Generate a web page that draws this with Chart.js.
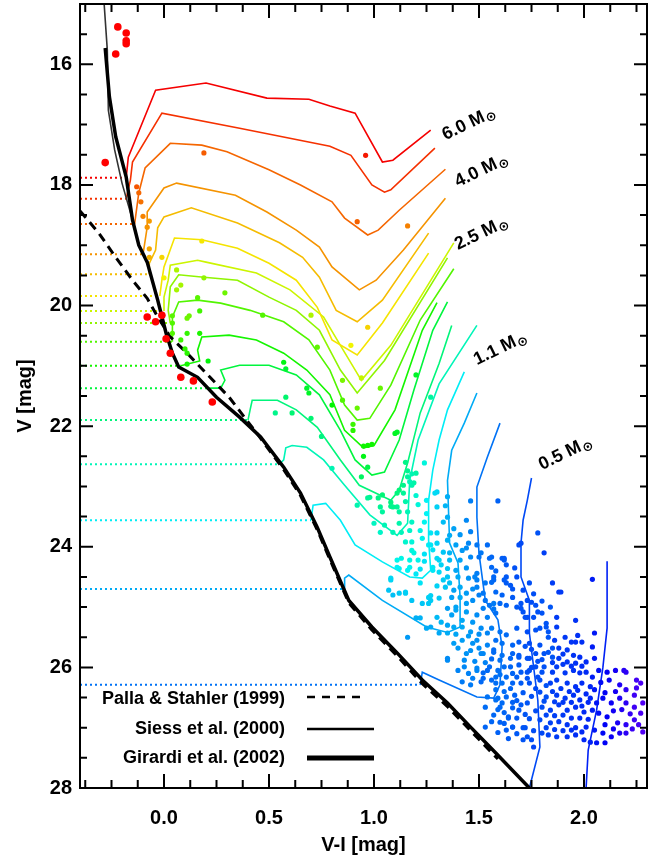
<!DOCTYPE html>
<html><head><meta charset="utf-8">
<script src="https://cdn.jsdelivr.net/npm/chart.js@4/dist/chart.umd.min.js"></script>
<style>html,body{margin:0;padding:0;background:#fff;}canvas{display:block;}</style>
</head><body>
<canvas id="c" width="662" height="858"></canvas>
<script>
// ---------- data (V-I [mag], V [mag]) ----------
const trk1 = [[-0.18,17.88],[-0.17,17.54],[-0.04,16.43],[0.20,16.31],[0.49,16.56],[0.69,16.58],[0.79,16.69],[0.91,16.81],[1.04,17.62],[1.09,17.59],[1.27,17.09]];
const trk2 = [[-0.18,18.23],[-0.16,17.92],[-0.15,17.62],[-0.01,16.81],[0.36,17.06],[0.79,17.36],[0.89,17.51],[0.99,18.00],[1.05,18.12],[1.08,18.08],[1.29,17.39]];
const trk3 = [[-0.14,18.65],[-0.12,18.13],[-0.09,17.72],[0.03,17.31],[0.18,17.34],[0.30,17.45],[0.50,17.75],[0.65,18.00],[0.80,18.28],[0.86,18.55],[0.97,18.83],[1.02,18.75],[1.12,18.42],[1.34,17.74]];
const trk4 = [[-0.10,19.15],[-0.08,18.70],[-0.08,18.45],[0.00,18.05],[0.06,17.97],[0.34,18.17],[0.49,18.45],[0.63,18.75],[0.74,19.03],[0.80,19.36],[0.93,19.74],[1.01,19.58],[1.14,19.08],[1.34,18.22]];
const trk5 = [[-0.07,19.48],[-0.07,19.30],[-0.04,19.08],[-0.03,18.71],[0.00,18.53],[0.13,18.38],[0.35,18.63],[0.55,18.96],[0.66,19.20],[0.74,19.53],[0.82,20.08],[0.92,20.27],[1.04,19.91],[1.26,18.80]];
const trk6 = [[-0.02,19.84],[-0.01,19.58],[0.00,19.36],[0.05,18.88],[0.18,18.91],[0.35,19.05],[0.50,19.30],[0.63,19.58],[0.73,20.03],[0.80,20.57],[0.92,20.82],[1.04,20.29],[1.26,19.13]];
const trk7 = [[0.00,20.09],[0.00,19.86],[0.02,19.58],[0.03,19.33],[0.16,19.25],[0.20,19.28],[0.44,19.46],[0.60,19.74],[0.76,20.19],[0.84,20.66],[0.94,21.24],[1.08,20.66],[1.38,18.96]];
const trk8 = [[0.03,20.29],[0.02,20.08],[0.03,19.69],[0.07,19.49],[0.19,19.53],[0.35,19.58],[0.50,19.86],[0.63,20.08],[0.74,20.41],[0.84,21.07],[0.92,21.45],[1.05,20.91],[1.35,19.21]];
const trk9 = [[0.04,20.60],[0.04,20.36],[0.04,20.19],[0.07,19.94],[0.16,19.91],[0.27,19.96],[0.41,20.08],[0.57,20.27],[0.69,20.57],[0.79,21.07],[0.86,21.65],[0.92,21.90],[0.98,21.87],[1.08,21.32],[1.22,20.24],[1.38,19.39]];
const trk10 = [[0.08,21.00],[0.17,20.92],[0.16,20.74],[0.18,20.52],[0.31,20.49],[0.44,20.57],[0.57,20.79],[0.68,21.07],[0.79,21.48],[0.86,22.07],[0.95,22.36],[1.00,22.32],[1.10,21.73],[1.23,20.41],[1.30,19.95]];
const trk11 = [[0.21,21.37],[0.27,21.37],[0.29,21.24],[0.27,21.07],[0.36,20.99],[0.50,20.99],[0.63,21.15],[0.74,21.48],[0.84,22.07],[0.91,22.56],[0.99,22.81],[1.05,22.76],[1.12,22.23],[1.19,21.40],[1.28,20.41],[1.35,19.94]];
const trk12 = [[0.40,21.90],[0.41,21.73],[0.42,21.57],[0.54,21.57],[0.63,21.73],[0.73,22.02],[0.84,22.56],[0.93,22.98],[1.08,23.23],[1.12,23.06],[1.16,22.61],[1.22,21.78],[1.31,20.96],[1.37,20.33]];
const trk13 = [[0.55,22.63],[0.57,22.56],[0.58,22.36],[0.61,22.32],[0.68,22.35],[0.76,22.56],[0.86,22.98],[0.98,23.47],[1.11,23.81],[1.16,23.61],[1.17,22.90],[1.21,22.23],[1.31,21.30],[1.49,20.33]];
const trk14 = [[0.70,23.56],[0.71,23.31],[0.77,23.28],[0.84,23.56],[0.91,23.97],[1.04,24.25],[1.17,24.50],[1.23,24.52],[1.27,24.39],[1.26,23.89],[1.26,23.23],[1.28,22.73],[1.31,22.23],[1.35,21.73],[1.43,21.10]];
const trk15 = [[0.86,24.70],[0.86,24.52],[0.88,24.47],[1.04,24.89],[1.25,25.33],[1.35,25.42],[1.41,25.33],[1.41,24.84],[1.40,24.27],[1.36,23.94],[1.35,22.90],[1.37,22.40],[1.43,21.95],[1.49,21.45]];
const trk16 = [[1.22,26.29],[1.23,26.08],[1.31,26.21],[1.49,26.49],[1.57,26.51],[1.60,26.29],[1.61,25.66],[1.59,25.21],[1.53,24.89],[1.50,24.11],[1.49,23.51],[1.49,23.01],[1.54,22.51],[1.60,21.95]];
const trkE = [[1.75,22.86],[1.73,23.23],[1.71,23.56],[1.70,23.94],[1.70,24.50],[1.74,24.89],[1.74,25.43],[1.76,25.99],[1.78,26.54],[1.79,27.32],[1.74,28.00]];
const trkF = [[2.11,24.24],[2.11,25.35],[2.09,26.00],[2.06,26.71],[2.02,27.37],[2.01,28.00]];
const zamsTracks = [trk1,trk2,trk3,trk4,trk5,trk6,trk7,trk8,trk9,trk10,trk11,trk12,trk13,trk14,trk15,trk16];
const tracks = zamsTracks.concat([trkE,trkF]);

const girardiTop = [[-0.28,15.73],[-0.26,16.54],[-0.23,17.20],[-0.18,17.87]];
const siessTop = [[-0.285,15.00],[-0.27,15.76],[-0.265,16.76],[-0.235,17.42],[-0.20,17.97]];
const msLower = [[-0.15,18.58],[-0.12,19.00],[-0.08,19.28],[-0.03,19.91],[0.01,20.46],[0.04,20.79],[0.07,21.02],[0.16,21.19],[0.25,21.52],[0.36,21.85],[0.46,22.18],[0.57,22.68],[0.65,23.11],[0.73,23.68],[0.79,24.17],[0.88,24.89],[0.99,25.33],[1.11,25.76],[1.23,26.21],[1.35,26.59],[1.46,26.99],[1.58,27.42],[1.74,28.00]];
const pallaStahler = [[-0.40,18.43],[-0.31,18.80],[-0.23,19.20],[-0.15,19.58],[-0.08,19.88],[-0.03,20.19],[0.03,20.52],[0.11,20.79],[0.20,21.12],[0.31,21.52],[0.44,22.11],[0.57,22.72],[0.65,23.15],[0.73,23.72],[0.79,24.21],[0.88,24.93],[0.99,25.38],[1.11,25.81],[1.23,26.27],[1.35,26.65],[1.46,27.05],[1.59,27.52]];

const redStars = [[-0.22,15.38],[-0.18,15.48],[-0.18,15.61],[-0.18,15.66],[-0.23,15.83],[-0.28,17.63],[-0.08,20.19],[-0.04,20.27],[-0.01,20.16],[0.01,20.55],[0.03,20.79],[0.08,21.19],[0.14,21.25],[0.23,21.60]];

const stars = [
[0.19,17.47],[-0.13,18.03],[-0.12,18.13],[-0.11,18.28],[-0.10,18.52],[-0.07,18.60],[-0.08,18.70],[-0.07,19.06],[-0.07,19.20],[-0.01,19.20],[0.18,18.93],[0.06,19.41],[0.08,19.66],[0.06,19.74],[0.19,19.54],[0.29,19.79],[0.00,19.54],[0.16,19.87],[0.96,17.51],[0.92,18.61],[1.16,18.68],[0.70,20.16],[0.97,20.36],[0.73,20.69],[0.89,20.66],[0.04,20.17],[0.11,20.21],[0.12,20.17],[0.17,20.09],[0.47,20.16],[0.04,20.29],[0.04,20.46],[0.11,20.46],[0.17,20.46],[0.08,20.57],[0.10,20.72],[0.11,20.79],[0.21,20.92],[0.11,20.97],[0.57,20.94],[0.58,21.05],[0.68,21.37],[0.69,21.45],[0.58,21.52],[0.53,21.78],[0.61,21.78],[0.70,21.87],[0.75,22.17],[0.94,21.20],[0.85,21.24],[1.03,21.37],[0.85,21.57],[0.80,21.65],[0.92,21.70],[0.90,21.97],[0.90,22.07],[1.20,21.15],[1.27,21.52],[1.11,22.10],[0.99,22.30],[0.95,22.33],[0.97,22.32],[0.95,22.50],[0.80,22.70],[0.97,22.68],[0.94,22.84],[1.15,22.60],[1.20,22.78],[1.16,22.84],[1.19,22.94],[1.24,22.61],[1.10,22.12],[1.16,22.74],[1.18,22.79],[1.17,22.92],
[1.30,23.09],[1.35,23.17],[1.46,23.24],[1.59,23.24],[1.12,23.06],[1.04,23.14],[0.98,23.18],[1.11,23.11],[1.08,23.26],[1.04,23.42],[1.11,23.34],[1.30,23.34],[1.35,23.51],[1.44,23.56],[1.34,23.32],[1.25,23.23],[0.92,23.31],[0.97,23.19],[1.03,23.34],[1.12,23.42],[1.16,23.42],[1.08,23.33],[1.29,23.11],[1.33,23.59],[1.18,23.59],[1.24,23.59],[1.17,23.73],[1.22,23.73],[1.27,23.77],[1.30,23.77],[1.35,23.89],[1.26,23.97],[1.19,24.10],[1.24,24.24],[1.22,24.37],[1.13,24.19],[1.11,24.34],[1.17,24.34],[1.08,24.52],[1.15,24.77],[1.27,24.81],[1.30,24.19],[1.36,24.10],[1.39,23.97],[1.44,24.02],[1.49,23.97],[1.51,24.10],[1.56,24.17],[1.46,24.17],[1.41,24.22],[1.32,24.30],[1.28,24.39],[1.35,24.50],[1.39,24.39],[1.49,24.44],[1.56,24.34],[1.57,24.50],[1.63,24.50],[1.65,24.64],[1.62,24.19],[1.69,23.97],[1.78,23.77],[1.81,24.10],[2.04,24.54],[1.89,24.75],[1.49,24.67],[1.44,24.77],[1.52,24.77],[1.34,24.67],[1.37,24.84],[1.07,24.72],[1.12,24.77],[1.26,24.84],
[1.02,23.19],[1.09,23.34],[1.14,23.11],[1.14,22.98],[1.18,22.98],[1.00,23.61],[1.05,23.64],[1.09,23.76],[1.12,23.61],[1.13,23.76],[1.03,23.76],[1.15,23.92],[1.18,23.92],[1.23,23.86],[1.27,23.97],[1.18,24.06],[1.11,24.22],[1.17,24.22],[1.21,24.22],[1.36,23.81],[1.30,23.94],[1.33,24.09],[1.36,24.22],[1.31,24.22],[1.42,24.06],[1.45,23.94],[1.50,24.17],[1.55,24.19],[1.62,24.22],[1.70,23.94],[1.12,24.36],[1.16,24.39],[1.28,24.34],[1.31,24.42],[1.35,24.36],[1.40,24.50],[1.36,24.60],[1.38,24.72],[1.41,24.67],[1.45,24.52],[1.48,24.50],[1.49,24.55],[1.53,24.60],[1.57,24.55],[1.62,24.55],[1.63,24.60],[1.71,24.72],[1.08,24.55],[1.15,24.75],[1.09,24.80],[1.18,24.89],[1.23,24.94],[1.27,24.89],[1.31,24.85],[1.39,25.00],[1.41,24.84],[1.44,24.94],[1.47,24.89],[1.50,24.80],[1.53,24.89],[1.55,24.97],[1.60,24.94],[1.63,24.97],[1.68,25.00],[1.70,24.94],[1.73,24.89],[1.75,24.92],[1.77,24.97],[1.37,25.13],[1.44,25.08],[1.49,25.13],[1.54,25.17],[1.58,25.10],[1.71,25.08],[1.73,25.17],[1.78,25.08],[1.80,25.10],[1.22,25.18],[1.30,25.17],[1.16,25.50],[1.27,25.33],[1.42,25.33],[1.46,25.41],[1.51,25.35],[1.54,25.43],[1.56,25.35],[1.60,25.41],[1.63,25.46],[1.68,25.35],[1.73,25.41],[1.77,25.38],[1.79,25.35],[1.82,25.33],[1.42,25.55],[1.49,25.55],[1.54,25.63],[1.58,25.55],[1.61,25.60],[1.66,25.63],[1.69,25.58],[1.74,25.60],[1.79,25.63],[1.83,25.50],[1.44,25.77],[1.51,25.77],[1.57,25.75],[1.61,25.80],[1.66,25.77],[1.69,25.80],[1.74,25.85],[1.77,25.77],[1.81,25.77],[1.35,25.85],[1.43,25.99],[1.49,26.05],[1.55,25.99],[1.59,26.05],[1.65,25.99],[1.69,25.96],[1.73,26.08],[1.77,25.99],[1.80,26.08],[1.52,26.18],[1.58,26.16],[1.63,26.16],[1.68,26.16],[1.73,26.18],[1.78,26.16],
[1.88,24.75],[1.96,25.22],[2.05,25.43],[1.54,23.97],[1.61,24.19],[1.56,24.59],[1.61,24.80],[1.66,24.84],[1.57,24.94],[1.70,25.02],[1.72,25.17],[1.76,25.17],[1.84,25.00],[1.87,25.17],[1.82,25.27],[1.83,25.41],[1.87,25.33],[1.94,25.58],[1.96,25.58],[1.99,25.58],[2.04,25.66],[1.85,25.68],[1.88,25.68],[1.92,25.71],[1.85,25.83],[1.88,25.85],[1.92,25.91],[1.96,25.93],[1.98,25.83],[2.01,25.91],[2.05,25.85],[1.81,25.99],[1.85,26.08],[1.87,25.99],[1.91,26.09],[1.95,26.05],[1.98,26.09],[2.01,26.08],[2.04,26.16],[2.07,26.05],[2.11,26.08],[2.15,26.05],[2.19,26.05],[2.12,26.21],[2.17,26.29],[2.20,26.37],[2.25,26.34],[2.27,26.26],[1.79,26.21],[1.84,26.26],[1.87,26.21],[1.92,26.26],[1.96,26.32],[1.99,26.26],[2.03,26.32],[2.05,26.37],[1.79,26.41],[1.82,26.49],[1.87,26.46],[1.91,26.51],[1.95,26.46],[1.98,26.54],[2.03,26.51],[2.06,26.59],[2.09,26.51],[2.13,26.59],[2.17,26.51],[2.20,26.59],[2.24,26.66],[2.27,26.76],[1.80,26.66],[1.84,26.71],[1.88,26.62],[1.92,26.71],[1.96,26.66],[2.00,26.74],[2.04,26.71],[2.07,26.76],[2.11,26.82],[2.16,26.92],[2.20,26.95],[2.24,26.87],[2.28,27.07],[1.79,26.87],[1.84,26.92],[1.88,26.90],[1.92,26.95],[1.96,27.00],[2.01,26.99],[2.05,27.04],[2.09,27.09],[2.13,27.15],[2.17,27.09],[2.20,27.09],[1.80,27.09],[1.83,27.12],[1.87,27.15],[1.92,27.15],[1.96,27.12],[2.00,27.20],[2.03,27.24],[2.06,27.25],[2.10,27.25],[1.71,27.20],[1.73,27.15],[1.72,27.00],[1.66,26.99],[1.64,26.82],[1.69,26.71],[1.73,26.59],[1.60,26.66],[1.59,26.51],[1.63,26.49],[1.67,26.46],[1.71,26.42],[1.61,26.26],[1.66,26.26],[1.70,26.26],[1.74,26.26],[1.66,26.10],[1.70,26.08],[1.74,26.05],[1.62,25.99],[1.60,25.88],[1.65,25.85],[1.69,25.83],[1.73,25.85],[1.57,25.71],[1.52,25.77],[1.54,26.05],[1.56,26.21],[1.58,26.37],[1.54,26.49],[1.53,26.66],[1.57,26.79],[1.60,26.91],[1.53,26.99],[1.63,27.04],[2.20,26.08],[2.25,26.21],[2.28,26.59],[2.24,26.46],
[1.35,25.88],[1.43,25.88],[1.49,26.01],[1.52,26.09],[1.47,26.18],[1.51,26.24],[1.42,26.24],[1.46,26.29],[1.58,26.26],[1.58,26.54],[1.61,26.59],[1.66,26.67],[1.64,26.84],[1.68,26.84],[1.66,26.99],[1.71,27.00],[1.75,27.20],[1.76,27.32],[1.26,24.94],[1.35,25.02],[1.39,25.05],[1.42,25.22],[1.20,25.18],[1.31,25.43],[1.35,25.43],[1.38,25.33],[1.25,25.35],
[1.47,25.60],[1.50,25.68],[1.46,25.72],[1.40,25.68],[1.38,25.60],[1.48,25.90],[1.45,26.10],[1.40,26.05],[1.53,25.92],[1.56,25.86],[1.60,26.12],[1.62,26.40],[1.65,26.35],[1.68,26.55],[1.70,26.62],[1.72,26.78],[1.66,26.58],[1.62,26.75],[1.59,26.70],[1.56,26.90],[1.62,26.93],[1.68,27.10],[1.64,27.18],[1.59,27.08],[1.82,26.30],[1.85,26.40],[1.89,26.35],[1.93,26.40],[1.97,26.38],[2.01,26.44],[1.81,26.56],[1.86,26.57],[1.90,26.58],[1.94,26.58],[1.99,26.64],[2.02,26.58],[1.82,26.79],[1.86,26.80],[1.90,26.79],[1.94,26.84],[1.98,26.84],[2.02,26.86],[1.82,27.00],[1.86,27.03],[1.90,27.05],[1.94,27.04],[1.99,27.07],[1.85,25.92],[1.90,25.95],[1.94,25.98],[1.99,25.98],[1.83,25.75],[1.90,25.78],[1.95,25.80],[1.80,25.87],[1.86,25.55],[1.91,25.50],[1.97,25.47],[2.08,26.25],[2.15,26.40],[2.10,26.42],[2.18,26.70],[2.14,26.72],[2.22,26.77],[2.10,26.95],[2.14,27.02],[2.23,27.02],[2.26,26.95],[1.75,25.70],[1.72,25.65],[1.78,25.90],[1.75,26.00],[1.77,26.35],[1.75,26.48],[1.77,26.72],[1.74,26.85],[1.76,27.05],[1.35,25.30],[1.32,25.25],[1.39,25.45],[1.45,25.48],[1.50,25.45],[1.47,25.25],[1.52,25.02],[1.57,25.03],[1.58,24.75],[1.66,24.70],[1.68,24.50],[1.74,24.60],[1.76,24.78],[1.80,24.90],[1.85,24.60],[1.63,24.30],[1.67,24.35],[1.58,24.40],[1.44,24.35],[1.47,24.70],[1.33,24.55],[1.30,24.65],[1.22,24.60],[1.20,24.45],[1.24,24.12],[1.28,24.05],[1.41,23.80],[1.38,23.70],[1.46,23.75],[1.25,23.45],[1.21,23.30],[1.15,23.25],[1.20,23.15]
];

const massLabels = ['6.0','4.0','2.5','1.1','0.5'];
const massLabelX = [1.34,1.40,1.40,1.49,1.80];
const massLabelV = [17.26,18.04,19.08,20.99,22.73];
const legendLabels = ['Palla & Stahler (1999)','Siess et al. (2000)','Girardi et al. (2002)'];
const xTicks = [0,0.5,1,1.5,2];
const yTicks = [16,18,20,22,24,26,28];

// ---------- styling ----------
const trackHues = [0,12,25,36,46,56,70,85,100,115,135,150,165,182,198,212,222,232];
const col = h => `hsl(${h},100%,48%)`;
const FONT = '"Liberation Sans", Arial, sans-serif';

function segDist(px,py,ax,ay,bx,by){
  const dx=bx-ax, dy=by-ay; const L=dx*dx+dy*dy;
  let t = L>0 ? ((px-ax)*dx+(py-ay)*dy)/L : 0; t=Math.max(0,Math.min(1,t));
  const qx=ax+t*dx-px, qy=ay+t*dy-py; return Math.sqrt(qx*qx+qy*qy);
}
function hueFor(x,V){
  const X=x*210, Y=V*60.3; let b=[1e9,0], s=[1e9,0];
  tracks.forEach((t,i)=>{
    let d=1e9;
    for(let k=0;k<t.length-1;k++) d=Math.min(d, segDist(X,Y,t[k][0]*210,t[k][1]*60.3,t[k+1][0]*210,t[k+1][1]*60.3));
    if(d<b[0]){s=b;b=[d,i];} else if(d<s[0]) s=[d,i];
  });
  let h=(trackHues[b[1]]*s[0]+trackHues[s[1]]*b[0])/(b[0]+s[0]+1e-9);
  if(x>2.03) h=Math.max(h, 232+(x-2.03)*110);
  return h;
}
const xy = arr => arr.map(p=>({x:p[0],y:p[1]}));

const datasets = [];
datasets.push({data:xy(redStars), showLine:false, pointRadius:3.8, pointBackgroundColor:'#ff0000', pointBorderWidth:0, order:0});
datasets.push({data:xy(stars), showLine:false, pointRadius:2.6, pointBackgroundColor:stars.map(p=>col(hueFor(p[0],p[1]))), pointBorderWidth:0, order:0});
datasets.push({data:xy(girardiTop.concat(msLower)), showLine:true, borderColor:'#000', borderWidth:3.5, pointRadius:0, order:1});
datasets.push({data:xy(siessTop.concat(msLower)), showLine:true, borderColor:'#333', borderWidth:1.6, pointRadius:0, order:1});
datasets.push({data:xy(pallaStahler), showLine:true, borderColor:'#000', borderWidth:3, borderDash:[9,6], pointRadius:0, order:1});
tracks.forEach((t,i)=>{
  datasets.push({data:xy(t), showLine:true, borderColor:col(trackHues[i]), borderWidth:1.6, pointRadius:0, order:3});
});
zamsTracks.forEach((t,i)=>{
  datasets.push({data:[{x:-0.4,y:t[0][1]},{x:t[0][0],y:t[0][1]}], showLine:true, borderColor:col(trackHues[i]), borderWidth:2, borderDash:[2,3], pointRadius:0, order:3});
});

const deco = {
  id:'deco',
  afterDatasetsDraw(chart){
    const {ctx, chartArea:a, scales:{x,y}} = chart;
    ctx.save();
    ctx.strokeStyle='#000'; ctx.lineWidth=2;
    ctx.strokeRect(a.left, a.top, a.right-a.left, a.bottom-a.top);
    ctx.beginPath();
    for(let v=-0.375; v<2.3; v+=0.125){
      const px=x.getPixelForValue(v); const maj=Math.abs(v*2-Math.round(v*2))<1e-6; const L=maj?14:8;
      ctx.moveTo(px,a.bottom); ctx.lineTo(px,a.bottom-L);
      ctx.moveTo(px,a.top); ctx.lineTo(px,a.top+L);
    }
    for(let v=15.5; v<28; v+=0.5){
      const py=y.getPixelForValue(v); const maj=Math.abs(v/2-Math.round(v/2))<1e-6; const L=maj?13:7;
      ctx.moveTo(a.left,py); ctx.lineTo(a.left+L,py);
      ctx.moveTo(a.right,py); ctx.lineTo(a.right-L,py);
    }
    ctx.stroke();
    ctx.fillStyle='#000';
    massLabels.forEach((m,i)=>{
      ctx.save();
      ctx.translate(x.getPixelForValue(massLabelX[i]), y.getPixelForValue(massLabelV[i]));
      ctx.rotate(-26*Math.PI/180);
      ctx.font='bold 18px '+FONT; ctx.textAlign='left'; ctx.textBaseline='alphabetic';
      const s=m+' M'; ctx.fillText(s,0,0);
      const w=ctx.measureText(s).width;
      ctx.font='bold 13px "DejaVu Sans", sans-serif'; ctx.fillText('\u2299', w+1, 3);
      ctx.restore();
    });
    const lx=a.left+205, rows=[a.bottom-89,a.bottom-59,a.bottom-30];
    ctx.font='bold 18px '+FONT; ctx.textAlign='right'; ctx.textBaseline='middle';
    legendLabels.forEach((s,i)=>ctx.fillText(s,lx,rows[i]));
    ctx.strokeStyle='#000';
    ctx.lineWidth=2.5; ctx.setLineDash([8,7]); ctx.beginPath(); ctx.moveTo(a.left+227,rows[0]-2); ctx.lineTo(a.left+287,rows[0]-2); ctx.stroke();
    ctx.setLineDash([]);
    ctx.lineWidth=2.5; ctx.beginPath(); ctx.moveTo(a.left+227,rows[1]); ctx.lineTo(a.left+294,rows[1]); ctx.stroke();
    ctx.lineWidth=5; ctx.beginPath(); ctx.moveTo(a.left+227,rows[2]); ctx.lineTo(a.left+294,rows[2]); ctx.stroke();
    ctx.restore();
  }
};

new Chart(document.getElementById('c'), {
  type:'scatter',
  data:{datasets},
  options:{
    responsive:false, animation:false, devicePixelRatio:1, events:[],
    layout:{padding:{left:0,right:15,top:4,bottom:0}},
    plugins:{legend:{display:false}, tooltip:{enabled:false}},
    scales:{
      x:{type:'linear', min:-0.4, max:2.3,
        grid:{display:false, drawTicks:false}, border:{display:false},
        afterBuildTicks:s=>{s.ticks=xTicks.map(v=>({value:v}));},
        afterFit:s=>{s.height=70; s.paddingLeft=0; s.paddingRight=0;},
        ticks:{color:'#000', font:{family:FONT, size:20, weight:'bold'}, padding:18, maxRotation:0, autoSkip:false, callback:v=>Number(v).toFixed(1)},
        title:{display:true, text:'V-I [mag]', color:'#000', font:{family:FONT,size:20,weight:'bold'}, padding:{top:0,bottom:1}}
      },
      y:{type:'linear', min:15, max:28, reverse:true,
        grid:{display:false, drawTicks:false}, border:{display:false},
        afterBuildTicks:s=>{s.ticks=yTicks.map(v=>({value:v}));},
        afterFit:s=>{s.width=80; s.paddingTop=0; s.paddingBottom=0;},
        ticks:{color:'#000', font:{family:FONT, size:20, weight:'bold'}, padding:8, autoSkip:false, callback:v=>String(v)},
        title:{display:true, text:'V [mag]', color:'#000', font:{family:FONT,size:20,weight:'bold'}, padding:{top:13,bottom:0}}
      }
    }
  },
  plugins:[deco]
});
</script>
</body></html>
